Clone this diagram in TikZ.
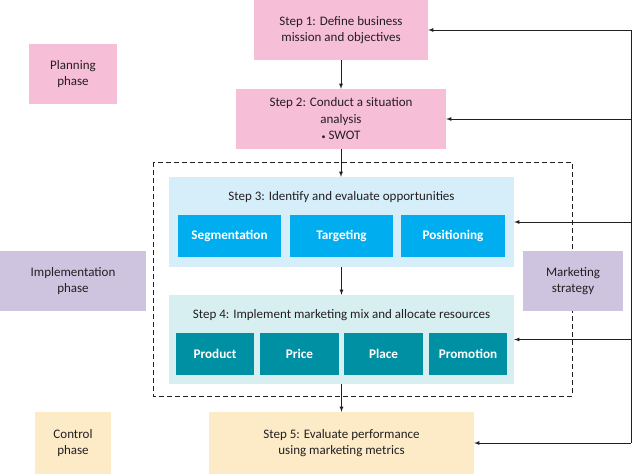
\documentclass[tikz,border=0pt]{standalone}
\usepackage{fontspec}
\setmainfont{Carlito}
\usetikzlibrary{arrows}
\definecolor{planpink}{HTML}{F7BED7}
\definecolor{oppblue}{HTML}{D6EEFA}
\definecolor{segblue}{HTML}{00AEEF}
\definecolor{mixteal}{HTML}{D8EFF1}
\definecolor{prodteal}{HTML}{0090A3}
\definecolor{stratlilac}{HTML}{CEC4E0}
\definecolor{ctrlyellow}{HTML}{FDEBC8}
\definecolor{inktext}{HTML}{231F20}

\begin{document}
\begin{tikzpicture}[x=1pt,y=-1pt,
  textbox/.style={inner sep=0pt,align=center,text=inktext,font=\fontsize{13}{16.5}\selectfont},
  stepbox/.style={textbox,minimum width=#1},
  tilebox/.style={inner sep=0pt,text=white,font=\fontsize{13.2}{15}\selectfont\bfseries,minimum height=42},
  flow/.style={color=inktext,line width=0.8pt,-latex}]
\useasboundingbox (0,0) rectangle (632,474);
% phases
\node (plan) at (73,74) [textbox,fill=planpink,minimum width=88,minimum height=60]{Planning\\phase};
\node (impl) at (73,281) [textbox,fill=stratlilac,minimum width=146,minimum height=60]{Implementation\\phase};
\node (ctrl) at (73,443) [textbox,fill=ctrlyellow,minimum width=76,minimum height=62]{Control\\phase};
% steps 1 and 2
\node (s1) at (341,30) [stepbox=174,fill=planpink,minimum height=60]{Step 1: Define business\\mission and objectives};
\node (s2) at (341,119) [stepbox=210,fill=planpink,minimum height=60]{Step 2: Conduct a situation\\analysis\\{\fontsize{8}{8}\selectfont •} SWOT};
% marketing strategy frame
\draw[color=inktext,line width=0.8pt,dash pattern=on 5pt off 3pt] (153,162) rectangle (572,396);
\node (strat) at (573,281) [textbox,fill=stratlilac,minimum width=100,minimum height=60]{Marketing\\strategy};
% step 3
\node (s3) at (341.5,222) [stepbox=345,fill=oppblue,minimum height=90]{};
\node (s3t) at (341.5,197) [textbox]{Step 3: Identify and evaluate opportunities};
\node (seg) at (229.5,236) [tilebox,fill=segblue,minimum width=103]{Segmentation};
\node (tgt) at (341.5,236) [tilebox,fill=segblue,minimum width=103]{Targeting};
\node (pos) at (453,236) [tilebox,fill=segblue,minimum width=104]{Positioning};
% step 4
\node (s4) at (341.5,339.5) [stepbox=345,fill=mixteal,minimum height=89]{};
\node (s4t) at (341.5,315) [textbox]{Step 4: Implement marketing mix and allocate resources};
\node (prod) at (215,354) [tilebox,fill=prodteal,minimum width=78]{Product};
\node (price) at (299.5,354) [tilebox,fill=prodteal,minimum width=79]{Price};
\node (place) at (383.5,354) [tilebox,fill=prodteal,minimum width=79]{Place};
\node (promo) at (468,354) [tilebox,fill=prodteal,minimum width=78]{Promotion};
% step 5
\node (s5) at (341.5,443) [stepbox=265,fill=ctrlyellow,minimum height=62]{Step 5: Evaluate performance\\using marketing metrics};
% main flow
\draw[flow] (s1.south) -- (s2.north);
\draw[flow] (s2.south) -- (s2.south |- s3.north);
\draw[flow] (s3.south) -- (s4.north);
\draw[flow] (s4.south) -- (s5.north);
% feedback loop
\coordinate (fbtop) at (631,30);
\coordinate (fbbot) at (631,443);
\draw[color=inktext,line width=0.8pt] (fbtop) -- (fbbot);
\draw[flow] (fbtop) -- (s1.east);
\draw[flow] (s2.east -| fbtop) -- (s2.east);
\draw[flow] (s3.east -| fbtop) -- (s3.east);
\draw[flow] (s4.east -| fbtop) -- (s4.east);
\draw[flow] (fbbot) -- (s5.east);
\end{tikzpicture}
\end{document}
